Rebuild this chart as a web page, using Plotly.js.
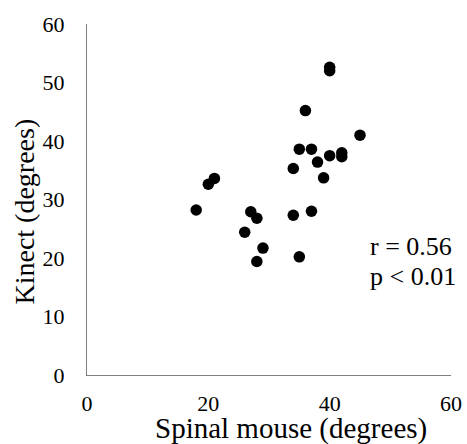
<!DOCTYPE html>
<html><head><meta charset="utf-8">
<script src="https://cdn.plot.ly/plotly-3.0.1.min.js"></script>
<style>html,body{margin:0;padding:0;background:#fff}#chart{width:467px;height:444px}</style>
</head><body><div id="chart"></div>
<script>
const spinalMouse = [21, 20, 18, 27, 28, 26, 29, 28, 34, 34, 37, 35, 40, 40, 36, 45, 35, 37, 38, 40, 42, 42, 39];
const kinect =      [33.6, 32.6, 28.2, 27.9, 26.8, 24.4, 21.7, 19.4, 35.3, 27.3, 28.0, 20.2, 52.6, 52.0, 45.2, 41.0, 38.6, 38.6, 36.4, 37.5, 38.0, 37.3, 33.7];
const xTicks = [0, 20, 40, 60];
const yTicks = [0, 10, 20, 30, 40, 50, 60];
const xTitle = "Spinal mouse (degrees)";
const yTitle = "Kinect (degrees)";
const statsText = ["r = 0.56", "p < 0.01"];

const font = "Liberation Serif";
Plotly.newPlot("chart", [{
  type: "scatter", mode: "markers",
  x: spinalMouse, y: kinect,
  marker: {color: "#000", size: 11.5},
  hoverinfo: "x+y"
}], {
  width: 467, height: 444,
  margin: {l: 86.5, r: 16, t: 24, b: 69},
  paper_bgcolor: "#fff", plot_bgcolor: "#fff",
  showlegend: false,
  font: {family: font, color: "#000", size: 22},
  xaxis: {range: [0, 60], tickvals: xTicks, ticktext: xTicks.map(String),
    showgrid: false, zeroline: false, showline: true, linecolor: "#7f7f7f", linewidth: 1,
    ticks: "outside", ticklen: 9, tickcolor: "rgba(0,0,0,0)", tickfont: {size: 22, family: font}, fixedrange: true},
  yaxis: {range: [0, 60], tickvals: yTicks, ticktext: yTicks.map(String),
    showgrid: false, zeroline: false, showline: true, linecolor: "#7f7f7f", linewidth: 1,
    ticks: "outside", ticklen: 17, tickcolor: "rgba(0,0,0,0)", tickfont: {size: 22, family: font}, fixedrange: true},
  annotations: [
    {x: 0.561, y: -0.153, xref: "paper", yref: "paper", xanchor: "center", yanchor: "middle",
     text: xTitle, showarrow: false, font: {size: 29, family: font, color: "#000"}},
    {x: -0.171, y: 0.465, xref: "paper", yref: "paper", xanchor: "center", yanchor: "middle",
     text: yTitle, textangle: -90, showarrow: false, font: {size: 28, family: font, color: "#000"}},
    {x: 46.3, y: 22.05, xref: "x", yref: "y", xanchor: "left", yanchor: "middle",
     text: statsText[0], showarrow: false, font: {size: 26, family: font, color: "#000"}},
    {x: 46.3, y: 16.9, xref: "x", yref: "y", xanchor: "left", yanchor: "middle",
     text: statsText[1], showarrow: false, font: {size: 26, family: font, color: "#000"}}
  ]
}, {displayModeBar: false, staticPlot: true});
</script></body></html>
